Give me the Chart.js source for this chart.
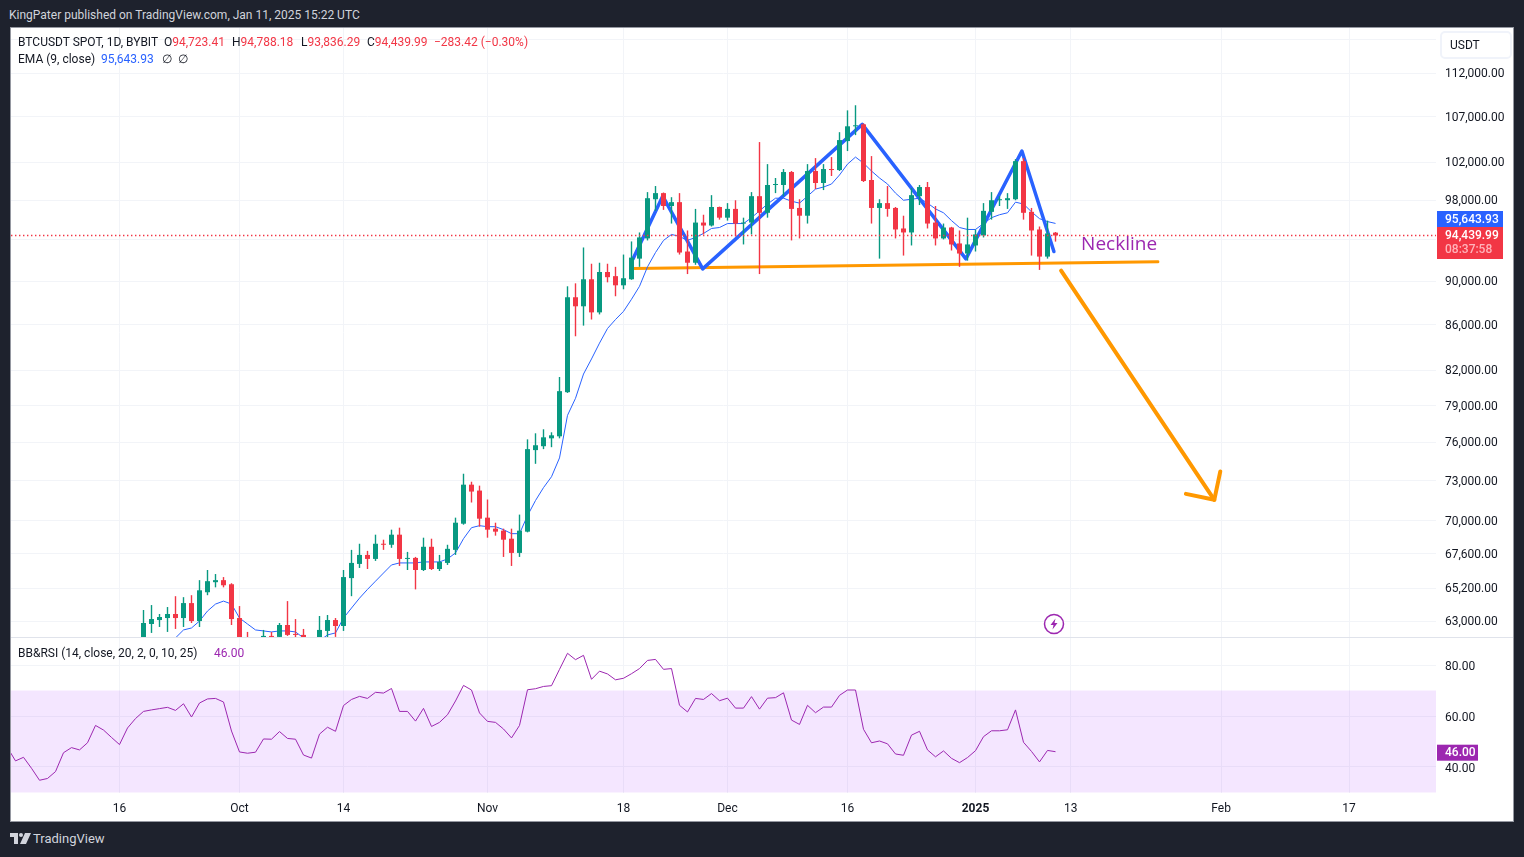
<!DOCTYPE html>
<html>
<head>
<meta charset="utf-8">
<title>BTCUSDT</title>
<script src="https://cdn.jsdelivr.net/npm/chart.js@4"></script>
<style>
html, body { margin: 0; padding: 0; width: 1524px; height: 857px; overflow: hidden; background: #1e222d; }
body { font-family: Roboto, sans-serif; font-size: 12px; color: #131722; position: relative; }
#frame { position: absolute; left: 10px; top: 27px; width: 1502px; height: 793px; background: #fff; border: 1px solid #9598a1; }
canvas { position: absolute; left: 11px; }
#divider { position: absolute; left: 11px; top: 637px; width: 1502px; height: 1px; background: #e0e3eb; }
.txt { position: absolute; white-space: pre; line-height: 16px; }
.red { color: #f23645; }
.blue { color: #2962ff; }
.purple { color: #9c27b0; }
#unit { position: absolute; left: 1440px; top: 31px; width: 68px; height: 24px; border: 2px solid #f0f3fa; border-radius: 5px; line-height: 24px; text-indent: 8px; }
</style>
</head>
<body>
<div id="frame"></div>
<canvas id="priceChart" width="1502" height="609" style="top:28px"></canvas>
<div id="divider"></div>
<canvas id="rsiChart" width="1502" height="183" style="top:638px"></canvas>

<div class="txt" style="left:9px;top:7px;color:#d1d4dc">KingPater published on TradingView.com, Jan 11, 2025 15:22 UTC</div>
<div class="txt" style="left:18px;top:34px">BTCUSDT SPOT, 1D, BYBIT</div>
<div class="txt" style="left:164px;top:34px">O<span class="red">94,723.41</span></div>
<div class="txt" style="left:232px;top:34px">H<span class="red">94,788.18</span></div>
<div class="txt" style="left:301px;top:34px">L<span class="red">93,836.29</span></div>
<div class="txt" style="left:367px;top:34px">C<span class="red">94,439.99</span></div>
<div class="txt red" style="left:434px;top:34px">−283.42 (−0.30%)</div>
<div class="txt" style="left:18px;top:51px">EMA (9, close)</div>
<div class="txt blue" style="left:101px;top:51px">95,643.93</div>
<div class="txt" style="left:162px;top:51px">∅</div>
<div class="txt" style="left:178px;top:51px">∅</div>
<div class="txt" style="left:18px;top:645px">BB&amp;RSI (14, close, 20, 2, 0, 10, 25)</div>
<div class="txt purple" style="left:214px;top:645px">46.00</div>
<div id="unit">USDT</div>

<svg style="position:absolute;left:1043px;top:613px" width="22" height="22">
  <circle cx="11" cy="11" r="9.5" fill="#fff" stroke="#9c27b0" stroke-width="1.5"/>
  <path d="M12.5 5.5 L7.5 12 L10.5 12 L9.5 16.5 L14.5 10 L11.5 10 Z" fill="#9c27b0"/>
</svg>
<svg style="position:absolute;left:10px;top:833px" width="21" height="12">
  <path d="M0 0 H8 V11 H4 V4 H0 Z M15 0 H21 L16 11 H10 Z" fill="#d1d4dc"/>
  <circle cx="11" cy="2" r="2" fill="#d1d4dc"/>
</svg>
<div class="txt" style="left:33px;top:831px;font-size:13px;color:#d1d4dc">TradingView</div>

<script>
// days are counted from 1 Oct 2024, first candle is 19 Sep
const firstCandleDay = -12;
const opens = [61700,62805,63067,63200,63467,63200,64200,63000,64934,65624,65765,65482,63200,60800,60600,60700,62025,61960,62740,62155,62090,60600,60300,62350,63067,62675,65906,66894,67530,67247,68327,68254,68981,67247,67318,66470,68109,66541,66965,67890,69781,72700,72250,70225,69418,69272,68690,67673,69200,75387,75695,76324,76486,80114,88511,87674,90198,87116,90889,90494,89628,90198,92174,94150,98105,98737,97410,97805,92865,91778,95730,95434,97311,96224,97114,95632,95730,98421,96718,99580,99580,100948,97212,96422,101054,99790,101264,101159,104283,105913,106130,100106,97212,97706,97212,95138,94742,98421,99369,95730,94150,95236,93656,92668,93458,94446,96817,98003,98003,98105,102106,96817,95039,92371,94723.41];
const highs = [63734,64067,63467,63934,64667,64600,64734,65765,66470,66188,65977,65553,64000,62285,61400,62415,62285,62870,64334,63133,62480,61300,63334,63400,63200,66470,67890,68327,67818,68981,68618,69345,69490,67745,67388,68763,68690,67530,68254,70225,73539,72925,72625,71575,69854,69418,69418,70450,76243,76729,77053,76810,81400,89535,89814,93260,91680,91778,91680,91383,92569,93853,94742,98842,99474,98800,98316,98737,94940,97114,96521,98527,97350,97706,98000,96224,98842,104174,101790,100317,101264,101054,98105,101790,102435,101790,102543,105261,107700,108280,106239,102652,98105,99474,97311,96422,99264,99580,99895,97410,95632,95300,94940,96224,95039,97706,98842,98421,98737,102326,102435,97212,95335,95928,94788.18];
const lows = [61500,62220,62610,62285,62480,62610,62870,62610,64734,65270,65270,62740,60200,60000,59900,60400,61700,61800,62025,61500,60800,58900,60000,61850,61960,62350,64667,66612,66541,67106,67890,68036,66753,66470,65130,66400,66470,66400,66824,67530,69708,71350,69563,68763,68909,67388,66753,67388,69150,74309,75464,75618,76324,80050,84958,85913,86465,86930,89907,88604,89255,90150,91383,93952,96916,97015,95632,92569,90692,91581,94545,95335,96027,95928,94347,93557,94545,90692,96224,98737,98421,93952,94150,95632,99158,99053,100527,101054,103196,104935,99895,95632,92174,96323,94150,92470,93458,97509,95138,93458,94051,92964,91383,91976,92865,94248,96027,97410,97114,98000,96027,92470,91087,92174,93836.29];
const closes = [62870,63133,63267,63467,63200,64200,63000,65067,65694,65765,65412,63133,60800,60600,60700,62025,61960,62740,62090,62090,60600,60300,62415,63067,62675,65977,66965,67530,67247,68327,68254,68981,67247,67318,66470,68109,66541,67035,67963,69854,72700,72175,70150,69345,69200,68618,67673,69272,75464,75772,76405,76567,80200,88511,87674,90198,87116,90889,90395,89628,90296,92272,94248,98211,98737,97410,97805,92766,91778,95730,95434,97311,96224,97114,95632,95730,98421,96718,99580,99685,100948,97114,96422,101054,99790,101264,101159,104391,105913,106022,100000,97212,97706,97114,95039,94742,98527,99369,95632,94150,95236,93557,92668,93557,94545,96916,98003,98105,98211,102106,96718,94940,92371,94644,94439.99];

const firstEmaDay = -8;
const emaValues = [61895,62415,62545,63000,63667,64134,64334,64134,63200,62805,62415,62350,62285,62350,62350,62285,61895,61570,61700,62090,62220,63200,63867,64534,65130,65694,66259,66824,66965,66965,66965,67035,67035,67035,67247,67673,68690,69490,69636,69563,69563,69345,69054,69054,70375,71500,72475,73308,74771,78189,79600,81655,82957,84349,85654,86465,87209,88325,89535,91383,92766,93952,94545,94347,93952,94248,94644,95138,95236,95632,95632,95632,96224,96916,97608,98211,98211,97903,97706,98421,99158,99369,99685,100633,101790,102543,101895,101054,100317,99685,98737,98003,98105,98211,97706,97114,96718,95928,95236,95039,95039,95632,96224,96521,96718,97805,97608,96817,96126,95829,95643.93];

const firstRsiDay = -29;
const rsiValues = [47.6,42.4,43.8,39.5,34.8,35.5,38.2,45.6,47.6,46.7,49.5,56.3,54.5,51.6,48.8,55.3,59.0,61.8,62.4,62.9,63.4,62.2,64.8,59.6,65.1,66.7,66.9,65.5,54.1,45.9,45.4,45.8,51.0,50.9,53.9,51.2,50.9,44.7,43.5,52.9,55.6,54.0,64.1,66.5,67.7,66.9,69.3,69.0,70.8,61.8,61.8,58.0,63.0,55.9,57.5,60.5,65.9,72.0,70.2,61.2,57.9,57.5,54.9,51.4,56.3,70.3,70.7,71.6,71.9,78.3,84.6,82.1,83.8,74.4,77.6,76.5,74.2,74.8,76.6,78.6,81.8,82.2,78.3,78.6,64.2,61.6,66.9,66.5,68.8,66.0,67.0,63.1,63.1,67.6,62.7,67.0,67.2,69.1,58.4,56.7,64.2,61.3,63.5,63.5,68.1,70.2,70.2,54.8,49.5,50.2,49.1,45.1,44.6,52.5,54.0,46.7,44.0,46.3,43.4,41.7,43.7,46.4,51.9,54.2,54.2,54.6,62.4,49.7,46.1,42.0,46.5,46.0];

// drawings: [day, price]
const patternLine = [[49.2,92174],[52.9,98421],[57.9,91185],[77.85,106130],[90.8,92145],[97.8,103196],[101.8,92865]];
const necklineLine = [[49.2,91215],[114.8,91877]];
const arrowShaft = [[102.7,91018],[121.85,71552]];
const arrowHead = [[118.3,72002],[121.85,71552],[122.6,73716]];

const priceTicks = [116000,112000,107000,102000,98000,94000,90000,86000,82000,79000,76000,73000,70000,67600,65200,63000];
const hiddenPriceTicks = [116000,94000];
const rsiTicks = [80,60,40];
const dayTicks = [-15,0,13,31,48,61,76,92,103.9,122.7,138.7];
const dayLabels = ['16','Oct','14','Nov','18','Dec','16','2025','13','Feb','17'];

const lastPrice = 94439.99;
const lastEma = 95643.93;
const countdown = '08:37:58';
const lastRsi = 46.00;

const GREEN = '#089981', RED = '#f23645', BLUE = '#2962ff', ORANGE = '#ff9800', PURPLE = '#9c27b0';
const GRID = '#f2f4f8', FONT = 'Roboto';
const dayMin = -28.5625, dayMax = 149.5625;
const candleColors = opens.map((o, i) => closes[i] >= o ? GREEN : RED);

function pts(list) { return list.map(p => ({x: p[0], y: p[1]})); }
function series(first, vals) { return vals.map((v, i) => ({x: first + i, y: v})); }
function drawing(list, color, width, order) {
    return {type: 'line', data: pts(list), borderColor: color, borderWidth: width, pointRadius: 0, borderCapStyle: 'round', borderJoinStyle: 'round', order: order};
}
function fmt(v) { return v.toLocaleString('en-US', {minimumFractionDigits: 2, maximumFractionDigits: 2}); }

function xScale(showLabels) {
    return {
        type: 'linear', min: dayMin, max: dayMax, offset: false,
        grid: {color: GRID, drawTicks: false, offset: false}, border: {display: false},
        afterBuildTicks: s => { s.ticks = dayTicks.map(v => ({value: v})); },
        afterFit: s => { s.height = showLabels ? 28 : 0; s.paddingLeft = 0; s.paddingRight = 0; },
        ticks: {
            display: showLabels, autoSkip: false, maxRotation: 0, padding: 9, color: '#131722',
            font: c => ({family: FONT, size: 12, weight: c.tick && c.tick.value === 92 ? 'bold' : 'normal'}),
            callback: v => dayLabels[dayTicks.indexOf(v)]
        }
    };
}
function yFit(s) { s.width = 77; s.paddingTop = 0; s.paddingBottom = 0; }

function tag(ctx, x, y, w, h, color) { ctx.fillStyle = color; ctx.fillRect(x, y, w, h); }
function tagText(ctx, str, x, y, color) {
    ctx.fillStyle = color; ctx.font = '500 12px ' + FONT; ctx.textAlign = 'left'; ctx.textBaseline = 'middle';
    ctx.fillText(str, x, y);
}

const priceTags = {
    id: 'priceTags',
    afterDraw(chart) {
        const {ctx, chartArea, scales} = chart;
        const y = Math.floor(scales.y.getPixelForValue(lastPrice)) + 1, left = chartArea.right + 1;
        tag(ctx, left, y - 9, 66, 32, RED);
        tag(ctx, left, y - 25, 66, 16, BLUE);
        tagText(ctx, fmt(lastEma), left + 8, y - 16, '#fff');
        tagText(ctx, fmt(lastPrice), left + 8, y, '#fff');
        tagText(ctx, countdown, left + 8, y + 14, '#ffb3ba');
        // neckline caption sits on the chart at a day/price position
        ctx.fillStyle = PURPLE; ctx.font = '500 19px "Open Sans"'; ctx.textAlign = 'left'; ctx.textBaseline = 'middle';
        ctx.fillText('Neckline', scales.x.getPixelForValue(105.2), scales.y.getPixelForValue(93500));
    }
};
const rsiTags = {
    id: 'rsiTags',
    afterDraw(chart) {
        const {ctx, chartArea, scales} = chart;
        const y = scales.y.getPixelForValue(lastRsi), left = chartArea.right + 1;
        tag(ctx, left, y - 7, 41, 16, PURPLE);
        tagText(ctx, fmt(lastRsi), left + 8, y + 1, '#fff');
    }
};

new Chart(document.getElementById('priceChart'), {
    type: 'bar',
    data: {
        datasets: [
            {type: 'line', data: [{x: dayMin, y: lastPrice}, {x: dayMax, y: lastPrice}], borderColor: RED, borderWidth: 1.4, borderDash: [1.4, 2.6], pointRadius: 0, order: 0},
            {data: opens.map((o, i) => ({x: firstCandleDay + i, y: [o, closes[i]]})), backgroundColor: candleColors, maxBarThickness: 5, minBarLength: 1, grouped: false, order: 1},
            {data: lows.map((l, i) => ({x: firstCandleDay + i, y: [l, highs[i]]})), backgroundColor: candleColors, maxBarThickness: 1.4, grouped: false, order: 2},
            {type: 'line', data: series(firstEmaDay, emaValues), borderColor: BLUE, borderWidth: 1, pointRadius: 0, order: 3},
            drawing(patternLine, BLUE, 3.5, 4),
            drawing(necklineLine, ORANGE, 3, 5),
            drawing(arrowShaft, ORANGE, 4, 6),
            drawing(arrowHead, ORANGE, 4, 7)
        ]
    },
    options: {
        responsive: false, animation: false, events: [],
        layout: {padding: 0},
        plugins: {legend: {display: false}, tooltip: {enabled: false}},
        scales: {
            x: xScale(false),
            y: {
                type: 'logarithmic', position: 'right', min: 61954, max: 117428.8,
                grid: {color: GRID, drawTicks: false}, border: {display: false},
                afterBuildTicks: s => { s.ticks = priceTicks.map(v => ({value: v})); },
                afterFit: yFit,
                ticks: {
                    autoSkip: false, padding: 9, labelOffset: 1, color: '#131722', font: {family: FONT, size: 12},
                    callback: v => hiddenPriceTicks.includes(v) ? '' : fmt(v)
                }
            }
        }
    },
    plugins: [priceTags]
});

new Chart(document.getElementById('rsiChart'), {
    type: 'line',
    data: {
        datasets: [
            {data: series(firstRsiDay, rsiValues), borderColor: PURPLE, borderWidth: 1, pointRadius: 0, order: 0},
            {data: [{x: dayMin, y: 70}, {x: dayMax, y: 70}], borderWidth: 0, pointRadius: 0, fill: {value: 30}, backgroundColor: 'rgba(155,39,255,0.115)', order: 1}
        ]
    },
    options: {
        responsive: false, animation: false, events: [],
        layout: {padding: 0},
        plugins: {legend: {display: false}, tooltip: {enabled: false}},
        scales: {
            x: xScale(true),
            y: {
                type: 'linear', position: 'right', min: 29.8, max: 90.6,
                grid: {color: GRID, drawTicks: false}, border: {display: false},
                afterBuildTicks: s => { s.ticks = rsiTicks.map(v => ({value: v})); },
                afterFit: yFit,
                ticks: {autoSkip: false, padding: 9, labelOffset: 2, color: '#131722', font: {family: FONT, size: 12}, callback: v => v.toFixed(2)}
            }
        }
    },
    plugins: [rsiTags]
});
</script>
</body>
</html>
